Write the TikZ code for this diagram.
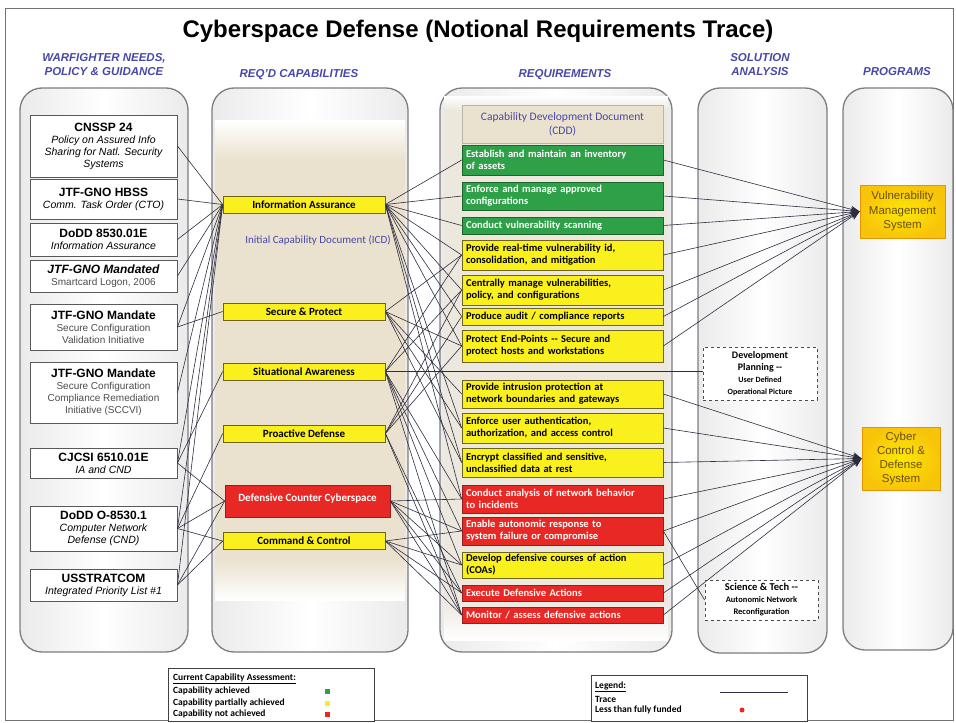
\documentclass[tikz,border=0pt]{standalone}
\usepackage{fontspec}
\setmainfont{Liberation Sans}
\newfontfamily\carl{Carlito}
\usetikzlibrary{arrows.meta,calc}
\definecolor{hdr}{RGB}{72,72,170}
\definecolor{ylw}{RGB}{250,240,30}
\definecolor{ylwd}{RGB}{110,100,30}
\definecolor{grn}{RGB}{46,160,72}
\definecolor{grnd}{RGB}{30,100,45}
\definecolor{rd}{RGB}{232,40,36}
\definecolor{rdd}{RGB}{150,30,30}
\definecolor{gold}{RGB}{248,196,10}
\definecolor{goldd}{RGB}{225,150,0}
\definecolor{goldt}{RGB}{105,80,10}
\definecolor{beige}{RGB}{234,226,206}
\definecolor{beige2}{RGB}{236,232,222}
\definecolor{colline}{RGB}{125,125,130}
\definecolor{trc}{RGB}{45,45,65}
\newcommand\ttl[1]{{\bfseries\fontsize{12}{13.5}\selectfont #1}}
\newcommand\subi[1]{{\itshape\fontsize{10.5}{12}\selectfont #1}}
\newcommand\subg[1]{{\color{black!70}\fontsize{10}{12}\selectfont #1}}
\begin{document}
\begin{tikzpicture}[x=1pt,y=-1pt,
  colbox/.style={draw=colline,line width=1.3pt,rounded corners=22pt,left color=gray!16,right color=gray!16,middle color=white},
  srcbox/.style={draw=black!65,line width=0.9pt,fill=white,minimum width=147pt,align=center,inner sep=1pt,font=\fontsize{10}{12}\selectfont},
  capbox/.style={draw=ylwd,line width=0.7pt,fill=ylw,minimum width=162pt,minimum height=17pt,inner sep=0.5pt,font=\carl\bfseries\fontsize{11}{12}\selectfont},
  reqbase/.style={line width=0.7pt,minimum width=201pt,text width=193pt,align=left,inner sep=1pt,font=\carl\bfseries\fontsize{10.5}{12}\selectfont},
  reqg/.style={reqbase,draw=grnd,fill=grn,text=white},
  reqy/.style={reqbase,draw=ylwd,fill=ylw,text=black},
  reqr/.style={reqbase,draw=rdd,fill=rd,text=white},
  dbox/.style={draw=black!70,dashed,line width=0.8pt,fill=white,align=center,inner sep=1pt},
  progbox/.style={draw=goldd,line width=0.8pt,inner color=yellow!60!gold,outer color=gold,text=goldt,align=center,inner sep=1pt,font=\fontsize{11.5}{14.5}\selectfont},
  hdrs/.style={text=hdr,font=\bfseries\itshape\fontsize{11.5}{14}\selectfont,align=center},
  trace/.style={draw=trc,line width=0.6pt},
  tracea/.style={trace,-{Stealth[length=9pt,width=7pt]}},
  legbox/.style={draw=black!75,line width=0.9pt,fill=white},
  legtxt/.style={font=\carl\bfseries\fontsize{9.5}{10}\selectfont,anchor=west,inner sep=0pt}
]
\useasboundingbox (0,0) rectangle (956,723);
\fill[white] (0,0) rectangle (956,723);
\draw[black!55,line width=0.6pt] (5,8) rectangle (953,720);

% title and headers
\node (title) at (478,31) {\bfseries\fontsize{24}{26}\selectfont Cyberspace Defense (Notional Requirements Trace)};
\node[hdrs] (h1) at (104,65) {WARFIGHTER NEEDS,\\POLICY \& GUIDANCE};
\node[hdrs] (h2) at (299,75) {REQ'D CAPABILITIES};
\node[hdrs] (h3) at (565,75) {REQUIREMENTS};
\node[hdrs] (h4) at (760,65) {SOLUTION\\ANALYSIS};
\node[hdrs] (h5) at (897,72) {PROGRAMS};

% column containers
\path[colbox] (20,88) rectangle (188,652);
\path[colbox] (212,88) rectangle (408,652);
\path[colbox] (440,88) rectangle (672,652);
\path[colbox] (698,88) rectangle (827,653);
\path[colbox] (843,88) rectangle (953,650);
% inner beige areas
\shade[top color=white,bottom color=beige] (215,120) rectangle (405,160);
\fill[beige] (215,160) rectangle (405,560);
\shade[top color=beige,bottom color=white] (215,560) rectangle (405,600);
\shade[top color=white,bottom color=beige2] (444,96) rectangle (668,110);
\fill[beige2] (444,110) rectangle (668,600);
\shade[top color=beige2,bottom color=white] (444,600) rectangle (668,640);

% column 1 sources
\node[srcbox,minimum height=62pt] (s1) at (103.5,146) {\ttl{CNSSP 24}\\\subi{Policy on Assured Info}\\\subi{Sharing for Natl. Security}\\\subi{Systems}};
\node[srcbox,minimum height=40pt] (s2) at (103.5,199) {\ttl{JTF-GNO HBSS}\\\subi{Comm. Task Order (CTO)}};
\node[srcbox,minimum height=33pt] (s3) at (103.5,239.5) {\ttl{DoDD 8530.01E}\\\subi{Information Assurance}};
\node[srcbox,minimum height=32pt] (s4) at (103.5,276) {\ttl{\itshape JTF-GNO Mandated}\\\subg{Smartcard Logon, 2006}};
\node[srcbox,minimum height=46pt] (s5) at (103.5,327) {\ttl{JTF-GNO Mandate}\\\subg{Secure Configuration}\\\subg{Validation Initiative}};
\node[srcbox,minimum height=61pt] (s6) at (103.5,392.5) {\ttl{JTF-GNO Mandate}\\\subg{Secure Configuration}\\\subg{Compliance Remediation}\\\subg{Initiative (SCCVI)}};
\node[srcbox,minimum height=30pt] (s7) at (103.5,463) {\ttl{CJCSI 6510.01E}\\\subi{IA and CND}};
\node[srcbox,minimum height=45pt] (s8) at (103.5,528.5) {\ttl{DoDD O-8530.1}\\\subi{Computer Network}\\\subi{Defense (CND)}};
\node[srcbox,minimum height=32pt] (s9) at (103.5,585) {\ttl{USSTRATCOM}\\\subi{Integrated Priority List \#1}};

% column 2 capabilities
\node[text=hdr,font=\carl\fontsize{11}{12}\selectfont] (icd) at (318,240) {Initial Capability Document (ICD)};
\node[capbox] (c1) at (304,204.5) {Information Assurance};
\node[capbox] (c2) at (304,311.5) {Secure \& Protect};
\node[capbox] (c3) at (304,371.5) {Situational Awareness};
\node[capbox] (c4) at (304,433.5) {Proactive Defense};
\node[capbox,draw=rdd,fill=rd,text=white,minimum width=165pt,minimum height=32pt] (c5) at (307.5,501) {\raisebox{7pt}{Defensive Counter Cyberspace}};
\node[capbox] (c6) at (304,541) {Command \& Control};

% column 3 requirements
\node[draw=beige!80!black,line width=0.5pt,fill=beige,minimum width=201pt,minimum height=38pt,align=center,text=hdr,font=\carl\fontsize{11.5}{14}\selectfont] (cdd) at (562.5,124) {Capability Development Document\\(CDD)};
\node[reqg,minimum height=30pt] (g1) at (562.5,160) {Establish and maintain an inventory\\of assets};
\node[reqg,minimum height=28pt] (g2) at (562.5,196) {Enforce and manage approved\\configurations};
\node[reqg,minimum height=17pt] (g3) at (562.5,225.5) {Conduct vulnerability scanning};
\node[reqy,minimum height=30pt] (y1) at (562.5,255) {Provide real-time vulnerability id,\\consolidation, and mitigation};
\node[reqy,minimum height=30pt] (y2) at (562.5,290) {Centrally manage vulnerabilities,\\policy, and configurations};
\node[reqy,minimum height=17pt] (y3) at (562.5,316.5) {Produce audit / compliance reports};
\node[reqy,minimum height=32pt] (y4) at (562.5,346) {Protect End-Points -- Secure and\\protect hosts and workstations};
\node[reqy,minimum height=28pt] (y5) at (562.5,394) {Provide intrusion protection at\\network boundaries and gateways};
\node[reqy,minimum height=30pt] (y6) at (562.5,428) {Enforce user authentication,\\authorization, and access control};
\node[reqy,minimum height=29pt] (y7) at (562.5,462.5) {Encrypt classified and sensitive,\\unclassified data at rest};
\node[reqr,minimum height=28pt] (r1) at (562.5,499) {Conduct analysis of network behavior\\to incidents};
\node[reqr,minimum height=28pt] (r2) at (562.5,531) {Enable autonomic response to\\system failure or compromise};
\node[reqy,minimum height=26pt] (y8) at (562.5,565) {Develop defensive courses of action\\(COAs)};
\node[reqr,minimum height=16pt] (r3) at (562.5,593) {Execute Defensive Actions};
\node[reqr,minimum height=16pt] (r4) at (562.5,615) {Monitor / assess defensive actions};

% column 4 solution analysis
\node[dbox,minimum width=114pt,minimum height=53pt] (dp) at (760,373.5) {{\carl\bfseries\fontsize{10}{12.5}\selectfont Development}\\{\carl\bfseries\fontsize{10}{12.5}\selectfont Planning --}\\{\carl\bfseries\fontsize{8}{12}\selectfont User Defined}\\{\carl\bfseries\fontsize{8}{12}\selectfont Operational Picture}};
\node[dbox,minimum width=113pt,minimum height=40pt] (st) at (761.5,600) {{\carl\bfseries\fontsize{10.5}{11}\selectfont Science \& Tech --}\\{\carl\bfseries\fontsize{8.5}{11}\selectfont Autonomic Network}\\{\carl\bfseries\fontsize{8.5}{11}\selectfont Reconfiguration}};

% column 5 programs
\node[progbox,minimum width=85pt,minimum height=53pt] (vms) at (902.5,211.5) {Vulnerability\\Management\\System};
\node[progbox,minimum width=78pt,minimum height=63pt,font=\fontsize{11.5}{14}\selectfont] (ccd) at (901,458.5) {Cyber\\Control \&\\Defense\\System};

% traces: sources -> capabilities
\foreach \s in {s1,s2,s3,s4,s5,s6,s7,s8,s9} \draw[trace] (\s.east) -- (c1.west);
\draw[trace] (s5.east) -- (c2.west);
\foreach \c in {c3,c5} \draw[trace] (s7.east) -- (\c.west);
\foreach \c in {c4,c5,c6} \draw[trace] (s8.east) -- (\c.west);
\foreach \c in {c5,c6} \draw[trace] (s9.east) -- (\c.west);

% traces: capabilities -> requirements
\foreach \r in {g1,g2,g3,y1,y2,y3,y4,y6,y7,r1} \draw[trace] (c1.east) -- (\r.west);
\foreach \r in {y1,y4,y5,y6,y7} \draw[trace] (c2.east) -- (\r.west);
\foreach \r in {y1,y2,r1,r2,y8,r4} \draw[trace] (c3.east) -- (\r.west);
\foreach \r in {y2,y3,y4,r3,r4} \draw[trace] (c4.east) -- (\r.west);
\foreach \r in {r1,r2,y8,r3,r4} \draw[trace] (c5.east) -- (\r.west);
\foreach \r in {r2,y8,r3,r4} \draw[trace] (c6.east) -- (\r.west);
\draw[trace] (c3.east) -- (c3.east -| dp.west);
\draw[trace] (r2.east) -- (st.west);

% traces: requirements -> programs
\foreach \r in {g1,g2,g3,y1,y2,y3,y4} \draw[tracea] (\r.east) -- (vms.west);
\foreach \r in {y5,y6,y7,r1,r2,y8,r3,r4} \draw[tracea] (\r.east) -- (ccd.west);

% legends
\draw[legbox] (168,668) rectangle (374,721);
\node[legtxt] (l1a) at (173,679) {\underline{Current Capability Assessment:}};
\node[legtxt] (l1b) at (173,691) {Capability achieved};
\node[legtxt] (l1c) at (173,703) {Capability partially achieved};
\node[legtxt] (l1d) at (173,714) {Capability not achieved};
\fill[grn] (324.5,688.5) rectangle +(5,5);
\fill[ylw] (324.5,700.5) rectangle +(5,5);
\fill[rd] (324.5,711.5) rectangle +(5,5);

\draw[legbox] (591,675) rectangle (807,721);
\node[legtxt] (l2a) at (595,687) {\underline{Legend:}};
\node[legtxt] (l2b) at (595,699) {Trace};
\node[legtxt] (l2c) at (595,710) {Less than fully funded};
\coordinate (tl1) at (720,692);
\coordinate (tl2) at (788,692);
\draw[trace,line width=0.9pt] (tl1) -- (tl2);
\fill[rd] (742,710) circle (2.5pt);
\end{tikzpicture}
\end{document}
